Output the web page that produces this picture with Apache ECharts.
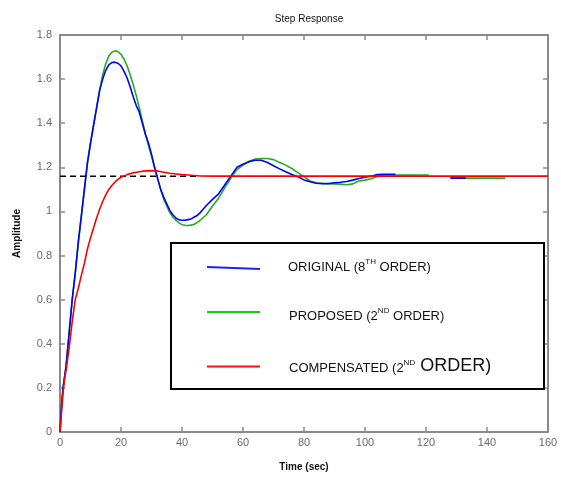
<!DOCTYPE html>
<html>
<head>
<meta charset="utf-8">
<script src="https://cdn.jsdelivr.net/npm/echarts@6/dist/echarts.min.js"></script>
<style>html,body{margin:0;padding:0;background:#fff;}#c{width:561px;height:477px;}</style>
</head>
<body>
<div id="c"></div>
<script>
// ---- Data ----
const xTicks = [0, 20, 40, 60, 80, 100, 120, 140, 160];
const yTicks = [0, 0.2, 0.4, 0.6, 0.8, 1, 1.2, 1.4, 1.6, 1.8];

// Original (8th order) - blue
const tOrig = [0,0.5,1,2,3,4,5,6,7,8,9,10,11,12,13,14,15,16,17,18,19,20,21,22,23,24,25,26,27,28,29,30,31,32,33,34,35,36,37,38,39,40,41,42,43,44,45,46,48,50,52,54,56,58,60,62,64,66,68,70,72,74,76,78,80,82,84,86,88,90,92,94,96,98,100,102,104,106,108,110,119,128,133];
const yOrig = [0,0.12,0.2,0.3,0.45,0.6,0.72,0.86,0.98,1.1,1.22,1.31,1.39,1.47,1.55,1.6,1.64,1.665,1.675,1.677,1.672,1.66,1.635,1.605,1.565,1.52,1.48,1.45,1.4,1.35,1.31,1.26,1.2,1.15,1.1,1.065,1.035,1.005,0.985,0.97,0.962,0.96,0.96,0.963,0.966,0.975,0.982,0.995,1.027,1.055,1.08,1.12,1.16,1.2,1.214,1.225,1.232,1.232,1.222,1.207,1.193,1.18,1.168,1.157,1.143,1.135,1.128,1.126,1.127,1.13,1.132,1.136,1.142,1.149,1.155,1.16,1.167,1.168,1.168,1.168,null,1.151,1.151];

// Proposed (2nd order) - green
const tProp = [0,0.5,1,2,3,4,5,6,7,8,9,10,11,12,13,14,15,16,17,18,19,20,21,22,23,24,25,26,27,28,29,30,31,32,33,34,35,36,37,38,39,40,41,42,43,44,45,46,48,50,52,54,56,58,60,62,64,66,68,70,72,74,76,78,80,82,84,86,88,90,92,94,96,98,100,102,104,106,110,116,121,124,128,136,146];
const yProp = [0,0.12,0.2,0.3,0.45,0.6,0.72,0.86,0.98,1.1,1.22,1.31,1.39,1.47,1.55,1.62,1.67,1.705,1.722,1.728,1.725,1.712,1.69,1.66,1.62,1.575,1.525,1.47,1.41,1.35,1.3,1.25,1.2,1.15,1.1,1.055,1.025,0.995,0.975,0.96,0.948,0.94,0.937,0.936,0.938,0.942,0.95,0.96,0.985,1.025,1.06,1.107,1.15,1.19,1.21,1.228,1.238,1.24,1.24,1.235,1.222,1.21,1.195,1.176,1.158,1.138,1.13,1.127,1.125,1.125,1.123,1.121,1.125,1.138,1.142,1.148,1.158,1.165,1.165,1.165,1.165,null,1.151,1.151,1.151];

// Compensated (2nd order) - red
const tComp = [0,0.3,1,1.5,2,3,4,5,6,7,8,9,10,11,12,13,14,15,16,17,18,19,20,22,24,26,28,30,32,34,36,38,40,42,44,46,50,60,160];
const yComp = [0,0.05,0.18,0.24,0.28,0.38,0.5,0.6,0.652,0.71,0.765,0.83,0.88,0.925,0.97,1.01,1.045,1.075,1.1,1.118,1.133,1.145,1.155,1.167,1.175,1.18,1.184,1.185,1.183,1.178,1.173,1.17,1.167,1.165,1.163,1.161,1.16,1.16,1.16];

// Steady-state reference (dashed)
const tSteady = [0, 45];
const ySteady = [1.16, 1.16];

const legendNames = ['ORIGINAL', 'PROPOSED', 'COMPENSATED'];

function pairs(t, y) { return t.map((v, i) => [v, y[i]]); }

const chart = echarts.init(document.getElementById('c'), null, {renderer: 'canvas'});
const axisColor = '#8a8a8a';
const labelColor = '#6a6a6a';
const baseFont = 'Liberation Sans';
const legFont = 'Liberation Sans';

function legendText(main, sup, tail, big) {
  return {
    type: 'text', left: 288, top: 0,
    style: {
      text: '{a|' + main + '}{s|' + sup + '}{' + (big ? 'b' : 'a') + '|' + tail + '}',
      rich: {
        a: {fontSize: 13, fontFamily: legFont, fill: '#111', verticalAlign: 'bottom', lineHeight: 18},
        b: {fontSize: 18, fontFamily: legFont, fill: '#111', verticalAlign: 'bottom', lineHeight: 18},
        s: {fontSize: 8, fontFamily: legFont, fill: '#111', verticalAlign: 'top', lineHeight: 18, padding: [2, 0, 0, 0]}
      }
    }
  };
}

const tickCommon = {show: true, inside: true, length: 5, lineStyle: {color: axisColor, width: 1.5}};
const lineCommon = {show: true, onZero: false, lineStyle: {color: axisColor, width: 2}};

const option = {
  backgroundColor: '#fff',
  animation: false,
  title: {
    text: 'Step Response', left: 304, top: 9, textAlign: 'center',
    textStyle: {fontSize: 10, fontWeight: 'normal', color: '#111', fontFamily: baseFont}
  },
  grid: {left: 60, top: 35, right: 13, bottom: 42, containLabel: false},
  xAxis: [{
    type: 'value', min: 0, max: 160, interval: 20,
    name: 'Time (sec)', nameLocation: 'middle', nameGap: 30,
    nameTextStyle: {fontSize: 10, fontWeight: 'bold', color: '#111', fontFamily: baseFont},
    axisLine: lineCommon, axisTick: tickCommon,
    axisLabel: {color: labelColor, fontSize: 11, margin: 5, fontFamily: baseFont,
      formatter: v => xTicks.includes(v) ? String(v) : ''},
    splitLine: {show: false}
  }, {
    type: 'value', position: 'top', min: 0, max: 160, interval: 20,
    axisLine: lineCommon, axisTick: tickCommon,
    axisLabel: {show: false}, splitLine: {show: false}
  }],
  yAxis: [{
    type: 'value', min: 0, max: 1.8, interval: 0.2,
    name: 'Amplitude', nameLocation: 'middle', nameGap: 38,
    nameTextStyle: {fontSize: 10, fontWeight: 'bold', color: '#111', fontFamily: baseFont},
    axisLine: lineCommon, axisTick: tickCommon,
    axisLabel: {color: labelColor, fontSize: 11, margin: 8, fontFamily: baseFont,
      formatter: v => { const r = Math.round(v * 10) / 10; return yTicks.includes(r) ? String(r) : ''; }},
    splitLine: {show: false}
  }, {
    type: 'value', position: 'right', min: 0, max: 1.8, interval: 0.2,
    axisLine: lineCommon, axisTick: tickCommon,
    axisLabel: {show: false}, splitLine: {show: false}
  }],
  series: [
    {name: legendNames[1], type: 'line', data: pairs(tProp, yProp), showSymbol: false, connectNulls: false,
      lineStyle: {color: '#1fae1f', width: 1.6}, z: 2},
    {name: legendNames[0], type: 'line', data: pairs(tOrig, yOrig), showSymbol: false, connectNulls: false,
      lineStyle: {color: '#0000ff', width: 1.6}, z: 3},
    {name: 'steady', type: 'line', data: pairs(tSteady, ySteady), showSymbol: false,
      lineStyle: {color: '#000', width: 1.5, type: [6, 4]}, z: 4},
    {name: legendNames[2], type: 'line', data: pairs(tComp, yComp), showSymbol: false,
      lineStyle: {color: '#ff0000', width: 1.6}, z: 5}
  ],
  graphic: [
    {type: 'rect', left: 170, top: 242, z: 100,
      shape: {width: 373, height: 146},
      style: {fill: '#fff', stroke: '#000', lineWidth: 2}},
    {type: 'line', z: 101, shape: {x1: 207, y1: 267, x2: 260, y2: 269}, style: {stroke: '#2020ff', lineWidth: 2}},
    {type: 'line', z: 101, shape: {x1: 207, y1: 312, x2: 260, y2: 312}, style: {stroke: '#10d010', lineWidth: 2}},
    {type: 'line', z: 101, shape: {x1: 207, y1: 366.5, x2: 260, y2: 366.5}, style: {stroke: '#ff1010', lineWidth: 2}},
    Object.assign(legendText('ORIGINAL (8', 'TH', ' ORDER)', false), {top: 256, z: 101}),
    Object.assign(legendText('PROPOSED (2', 'ND', ' ORDER)', false), {left: 289, top: 305, z: 101}),
    Object.assign(legendText('COMPENSATED (2', 'ND', ' ORDER)', true), {left: 289, top: 357, z: 101})
  ]
};
chart.setOption(option);
</script>
</body>
</html>
